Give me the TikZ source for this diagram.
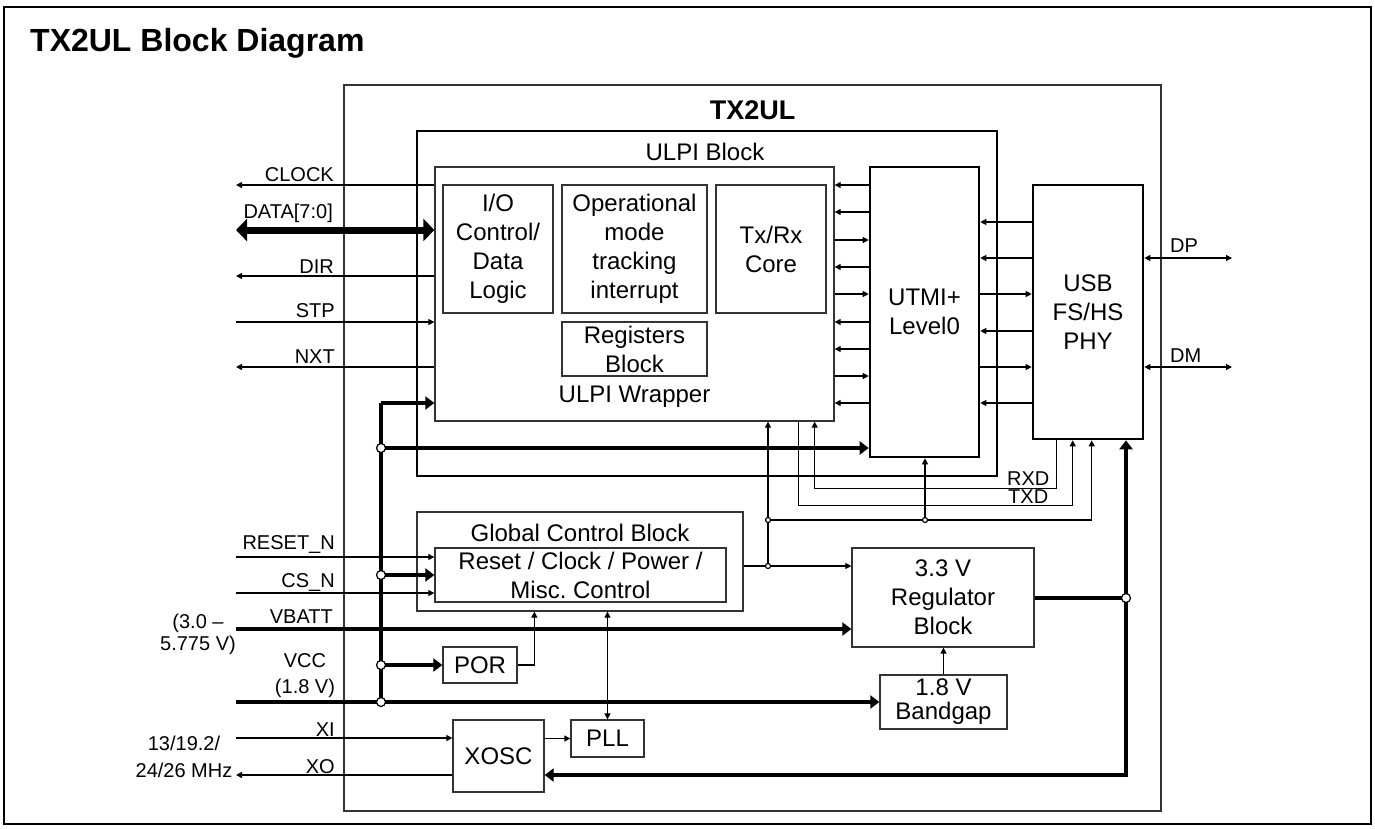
\documentclass[tikz,border=0pt]{standalone}
\usepackage{fontspec}
\setmainfont{Liberation Sans}
\usetikzlibrary{arrows.meta, positioning, calc}
\newcommand{\boxfont}{\fontsize{24}{29}\selectfont}
\newcommand{\sigfont}{\fontsize{20}{24}\selectfont}
\tikzset{
    blockbox/.style={
        rectangle,
        draw=black!80,
        line width=1.3,
        fill=white,
        align=center,
        inner sep=0,
        font=\boxfont
    },
    heavybox/.style={
        blockbox,
        draw=black,
        line width=2.6
    },
    sigarrow/.style={-{Triangle[length=6,width=6]}, line width=1.2},
    sigboth/.style={{Triangle[length=6,width=6]}-{Triangle[length=6,width=6]}, line width=1.2},
    busarrow/.style={-{Triangle[length=9,width=13]}, line width=4},
    busline/.style={line width=4},
    databus/.style={{Triangle[length=11,width=22]}-{Triangle[length=11,width=22]}, line width=7},
    sigtext/.style={font=\sigfont, inner sep=0},
    junction/.style={circle, draw, fill=white, line width=1.2, inner sep=0, minimum size=9},
    tap/.style={junction, minimum size=5}
}

\begin{document}
\begin{tikzpicture}[x=1pt, y=-1pt]
    \useasboundingbox (0,0) rectangle (1375,828);
    \draw[line width=2.4] (4,7) rectangle (1371,824);
    \node[anchor=base west, inner sep=0, font=\fontsize{32}{38}\selectfont\bfseries] (title) at (30,51) {TX2UL Block Diagram};

    \node[blockbox, fill=none, minimum width=817, minimum height=726] (chip) at (752.5,448) {};
    \node[font=\fontsize{27}{32}\selectfont\bfseries] (chiplbl) at (752.5,110) {TX2UL};
    \node[heavybox, minimum width=580, minimum height=345] (ulpi) at (707,303.5) {};
    \node[font=\boxfont] (ulpilbl) at (705,152) {ULPI Block};
    \node[blockbox, minimum width=399, minimum height=254] (wrap) at (634.5,294) {};
    \node[blockbox, minimum width=110, minimum height=128] (iolog) at (498,249) {I/O\\Control/\\Data\\Logic};
    \node[blockbox, minimum width=145, minimum height=128] (opmode) at (634.5,249) {Operational\\mode\\tracking\\interrupt};
    \node[blockbox, minimum width=110, minimum height=128] (txrx) at (771,249) {Tx/Rx\\Core};
    \node[blockbox, minimum width=145, minimum height=54] (regs) at (634.5,349) {Registers\\Block};
    \node[font=\boxfont] (wraplbl) at (634.5,397) {ULPI Wrapper};
    \node[heavybox, minimum width=109, minimum height=290] (utmi) at (924.5,312) {UTMI+\\Level0};
    \node[heavybox, minimum width=110, minimum height=254] (phy) at (1088,312) {USB\\FS/HS\\PHY};

    \node[blockbox, minimum width=326, minimum height=99] (gcb) at (580,561.5) {};
    \node[font=\boxfont] (gcblbl) at (580,533) {Global Control Block};
    \node[blockbox, minimum width=291, minimum height=54] (rst) at (580.5,575) {Reset / Clock / Power /\\Misc.\ Control};
    \node[blockbox, minimum width=182, minimum height=99] (reg) at (943,597.5) {3.3 V\\Regulator\\Block};
    \node[blockbox, minimum width=127, minimum height=54, font=\fontsize{24}{24}\selectfont] (bandgap) at (943.5,702) {1.8 V\\Bandgap};
    \node[blockbox, minimum width=74, minimum height=36] (por) at (480,665) {POR};
    \node[blockbox, minimum width=91, minimum height=72] (xosc) at (498.5,756) {XOSC};
    \node[blockbox, minimum width=73, minimum height=37] (pll) at (607.5,738.5) {PLL};

    \foreach \pin/\yy in {clk/185, data/230, dir/276, stp/322, nxt/367, rstn/557, csn/593,
        vbatt/629, vcc/702, xi/738, xo/775}
        \coordinate (\pin) at (236,\yy);
    \coordinate (dp) at (1232,258);
    \coordinate (dm) at (1232,367);
    \coordinate (jtop) at (381,403);
    \coordinate (jutmi) at (381,448);
    \coordinate (jrst) at (381,575);
    \coordinate (jpor) at (381,665);
    \coordinate (jvcc) at (381,702);
    \coordinate (tleft) at (768,520);
    \coordinate (tmid) at (925,520);
    \coordinate (tgcb) at (768,566);
    \coordinate (jpwr) at (1126,598);

    \draw[sigarrow] (wrap.west |- clk) -- (clk);
    \draw[databus] (data) -- (wrap.west |- data);
    \draw[sigarrow] (wrap.west |- dir) -- (dir);
    \draw[sigarrow] (stp) -- (wrap.west |- stp);
    \draw[sigarrow] (wrap.west |- nxt) -- (nxt);
    \node[sigtext, anchor=base east] at (334,181) {CLOCK};
    \node[sigtext, anchor=base east] at (333,218) {DATA[7:0]};
    \node[sigtext, anchor=base east] at (334,273) {DIR};
    \node[sigtext, anchor=base east] at (335,317) {STP};
    \node[sigtext, anchor=base east] at (335,363) {NXT};

    \draw[busline] (jvcc) -- (jtop);
    \draw[busarrow] (jtop) -- (wrap.west |- jtop);
    \draw[busarrow] (jutmi) -- (utmi.west |- jutmi);
    \draw[busarrow] (jrst) -- (rst.west |- jrst);
    \draw[busarrow] (jpor) -- (por.west);
    \draw[busarrow] (vbatt) -- (reg.west |- vbatt);
    \draw[busarrow] (vcc) -- (bandgap.west);
    \draw[sigarrow] (rstn) -- (rst.west |- rstn);
    \draw[sigarrow] (csn) -- (rst.west |- csn);
    \draw[sigarrow] (xi) -- (xosc.west |- xi);
    \draw[sigarrow] (xosc.west |- xo) -- (xo);
    \node[sigtext, anchor=base east] at (335,549) {RESET\_N};
    \node[sigtext, anchor=base east] at (335,587) {CS\_N};
    \node[sigtext, anchor=base east] at (333,623) {VBATT};
    \node[sigtext, align=center, font=\fontsize{20}{26}\selectfont] at (305,676) {VCC\\(1.8 V)};
    \node[sigtext, anchor=base east] at (335,736) {XI};
    \node[sigtext, anchor=base east] at (335,773) {XO};
    \node[sigtext, align=center, font=\fontsize{20}{22}\selectfont] at (198,634) {(3.0 --\\5.775 V)};
    \node[sigtext, align=center, font=\fontsize{20}{27}\selectfont] at (184,756.5) {13/19.2/\\24/26 MHz};

    \draw[sigarrow] (xosc.east |- pll.west) -- (pll.west);
    \draw[sigboth] (pll.north) -- (pll.north |- gcb.south);
    \draw[sigarrow] (por.east) -| ([xshift=118]gcb.south west);
    \draw[sigarrow] (gcb.east |- tgcb) -- (reg.west |- tgcb);
    \draw[sigarrow] (tgcb) -- (tleft) -- (wrap.south -| tleft);
    \draw[sigarrow] (tleft) -- (tmid) -| ([xshift=60]phy.south west);
    \draw[sigarrow] (tmid) -- (utmi.south -| tmid);
    \draw[sigarrow] ([xshift=-36]wrap.south east) -- ++(0,84) -| ([xshift=41]phy.south west);
    \draw[sigarrow] ([xshift=25]phy.south west) -- ++(0,48) -| ([xshift=-20]wrap.south east);
    \node[sigtext, anchor=base west] at (1007,485) {RXD};
    \node[sigtext, anchor=base west] at (1008,503) {TXD};

    \foreach \yy in {185,212,267,322,349,403}
        \draw[sigarrow] (utmi.west |- 0,\yy) -- (wrap.east |- 0,\yy);
    \foreach \yy in {240,294,376}
        \draw[sigarrow] (wrap.east |- 0,\yy) -- (utmi.west |- 0,\yy);
    \foreach \yy in {222,258,331,403}
        \draw[sigarrow] (phy.west |- 0,\yy) -- (utmi.east |- 0,\yy);
    \foreach \yy in {294,367}
        \draw[sigarrow] (utmi.east |- 0,\yy) -- (phy.west |- 0,\yy);
    \draw[sigboth] (phy.east |- dp) -- (dp);
    \draw[sigboth] (phy.east |- dm) -- (dm);
    \node[sigtext, anchor=base west] at (1170,252) {DP};
    \node[sigtext, anchor=base west] at (1170,362) {DM};

    \draw[busline] (reg.east) -- (reg.east -| jpwr);
    \draw[busarrow] (jpwr) -- (phy.south -| jpwr);
    \draw[busarrow] (jpwr) |- (xosc.east |- xo);
    \draw[sigarrow] (bandgap.north) -- (reg.south -| bandgap.north);

    \foreach \jn in {jutmi, jrst, jpor, jvcc, jpwr}
        \node[junction] at (\jn) {};
    \foreach \jn in {tleft, tmid, tgcb}
        \node[tap] at (\jn) {};
\end{tikzpicture}
\end{document}
